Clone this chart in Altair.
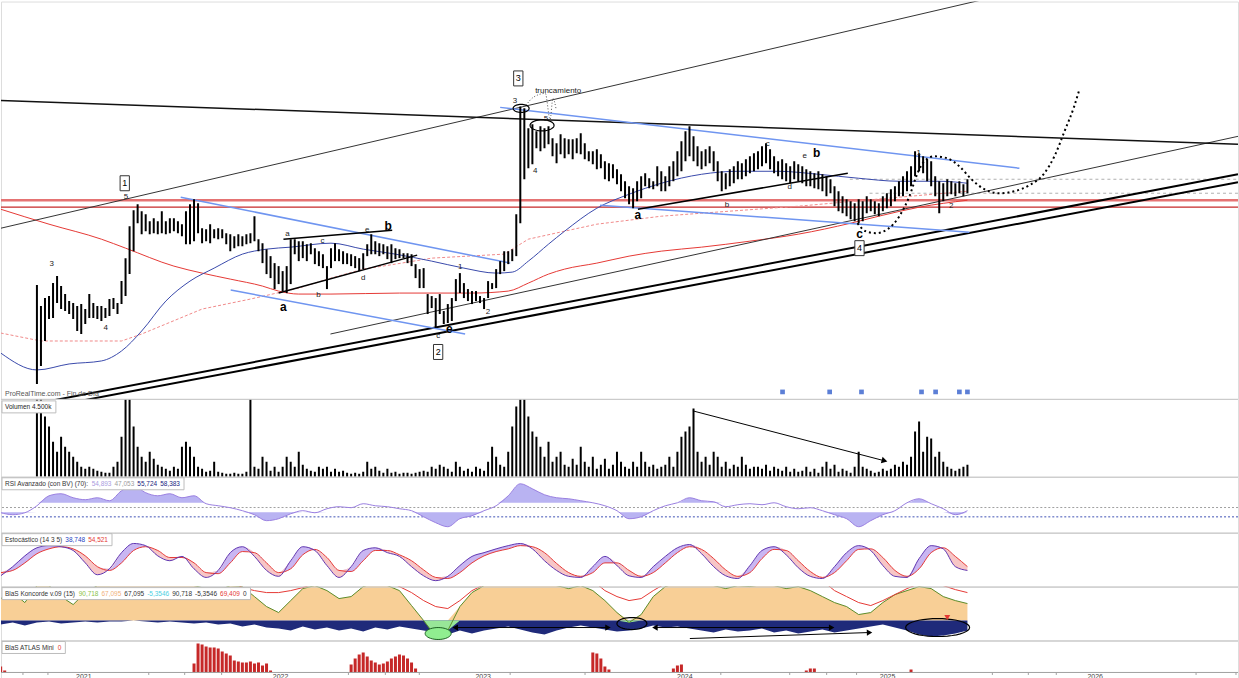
import altair as alt
import numpy as np
import pandas as pd

W = 1239
FONT = "Liberation Sans"

# ---------------- weekly price bars (high / low) ----------------
high = [10.8, 9.75, 10.15, 10.25, 10.9, 11.25, 10.75, 10.35, 10.0, 9.9,
        9.75, 9.85, 9.6, 10.35, 9.9, 9.75, 9.75, 9.65, 10.1, 10.15,
        9.9, 11.0, 12.15, 13.75, 14.55, 14.85, 14.5, 14.35, 14.0, 14.15,
        14.0, 14.5, 14.0, 14.15, 14.15, 14.0, 13.85, 14.5, 14.85, 15.1,
        14.9, 13.65, 13.6, 13.85, 13.6, 13.65, 13.6, 13.4, 13.35, 13.25,
        13.35, 13.25, 13.35, 13.4, 14.25, 13.1, 12.9, 12.6, 12.25, 11.9,
        11.75, 11.5, 11.75, 13.1, 13.1, 13.0, 13.0, 12.85, 12.9, 12.65,
        12.5, 12.35, 11.75, 12.65, 12.9,
        12.6, 12.5, 12.4, 12.35, 12.25, 12.15, 12.4, 12.85, 13.35, 13.0,
        12.9, 12.85, 12.75, 12.85, 12.65, 12.6, 12.4, 12.4, 12.35, 11.85,
        11.6, 11.65, 10.35, 10.25, 10.15, 10.35, 9.5, 9.85, 10.15, 11.1,
        11.4, 10.9, 10.6, 10.5, 10.5, 10.25, 10.15, 11.0, 10.9, 11.6,
        12.0, 12.5, 12.5, 12.6, 14.35, 19.75, 19.65, 18.65, 18.85, 18.5,
        18.75, 18.65, 18.75, 18.15, 17.9, 18.35, 18.15, 18.1, 18.1, 18.15,
        18.4, 17.9, 17.5, 17.5, 17.6, 17.35, 17.0, 16.9, 16.85, 16.6,
        16.35, 16.0, 15.75, 15.65, 16.0, 16.25, 16.4, 16.15, 16.0,
        16.75, 16.5, 16.25, 16.75, 17.0, 17.5, 18.0, 18.5, 18.75, 18.25,
        17.75, 17.5, 17.6, 17.75, 17.5, 17.0, 16.5, 16.4, 16.6, 16.75,
        17.0, 16.9, 17.1, 17.25, 17.4, 17.5, 17.75, 17.9, 17.6, 17.25,
        17.0, 17.1, 16.9, 16.75, 17.0, 16.85, 16.75, 16.6, 16.5, 16.4,
        16.5, 16.35, 16.25, 16.1, 15.75, 15.5, 15.25, 15.1, 15.0, 14.9,
        15.1, 15.0, 15.25, 15.1, 15.0, 14.9, 15.25, 15.4, 15.6, 15.75,
        16.0, 16.25, 16.5, 16.75, 17.5, 17.4, 17.25, 17.1, 17.0, 16.25,
        16.0, 15.9, 16.1, 16.0, 15.9, 16.0, 15.85, 16.1]
low = [5.85, 6.75, 8.0, 9.1, 9.15, 9.9, 9.6, 9.5, 9.35, 9.1,
       8.5, 8.35, 8.85, 9.15, 9.15, 9.1, 9.0, 9.15, 9.25, 9.6,
       9.35, 9.85, 10.25, 11.35, 12.5, 13.9, 13.35, 13.5, 13.35, 13.4,
       13.35, 13.4, 13.35, 13.4, 13.5, 13.4, 13.25, 12.85, 12.85, 13.0,
       13.4, 12.9, 13.0, 12.9, 13.15, 13.1, 13.15, 12.85, 12.5, 12.65,
       12.75, 12.75, 12.85, 12.9, 13.0, 12.5, 11.9, 11.35, 11.15, 10.6,
       10.85, 10.5, 10.4, 10.85, 12.35, 12.0, 12.15, 12.0, 12.35, 11.85,
       11.75, 11.65, 10.6, 11.65, 12.0,
       12.0, 11.85, 11.85, 11.75, 11.65, 11.5, 11.6, 12.25, 12.35, 12.35,
       12.25, 12.35, 12.1, 11.9, 12.1, 12.15, 12.15, 11.9, 11.75, 11.15,
       10.65, 10.65, 9.35, 9.65, 8.65, 9.35, 8.85, 8.9, 9.0, 10.0,
       10.4, 10.15, 10.0, 9.85, 10.0, 9.9, 9.6, 10.15, 10.6, 10.65,
       11.35, 11.5, 11.85, 12.0, 12.25, 13.9, 16.1, 16.65, 16.85, 17.65,
       17.5, 17.65, 17.85, 17.25, 16.9, 17.35, 17.15, 17.35, 17.1, 17.4,
       17.35, 17.1, 17.0, 16.85, 16.6, 16.65, 16.1, 16.0, 16.15, 15.85,
       15.5, 15.15, 14.85, 14.65, 15.0, 15.15, 15.75, 15.65, 15.6,
       15.75, 15.5, 15.5, 15.75, 16.0, 16.25, 16.5, 17.0, 17.25, 17.0,
       16.75, 16.6, 16.75, 16.9, 16.5, 16.0, 15.5, 15.6, 15.75, 15.9,
       16.1, 16.1, 16.25, 16.4, 16.5, 16.6, 16.75, 16.9, 16.6, 16.4,
       16.25, 16.1, 16.0, 15.9, 16.1, 16.0, 15.9, 15.75, 15.75, 15.65,
       15.6, 15.5, 15.25, 15.4, 14.75, 14.5, 14.4, 14.25, 14.1, 14.0,
       13.9, 14.0, 14.4, 14.5, 14.35, 14.25, 14.5, 14.65, 14.75, 15.0,
       15.25, 15.25, 15.5, 15.75, 16.25, 16.5, 16.4, 16.0, 15.75, 15.25,
       14.4, 15.0, 15.25, 15.35, 15.25, 15.4, 15.25, 15.4]

# weekly volume (thousands)
volume = [6800, 5900, 3480, 2900, 2030, 1450, 2320, 1740, 1450, 1160,
          870, 580, 465, 580, 465, 350, 290, 230, 230, 580,
          870, 2320, 6100, 5400, 2900, 1740, 1160, 870, 1450, 1045,
          700, 580, 465, 350, 580, 465, 1740, 2030, 1740, 1160,
          580, 465, 290, 350, 870, 290, 230, 175, 175, 230,
          175, 175, 290, 7200, 580, 465, 1160, 870, 350, 580,
          290, 580, 1160, 870, 580, 1450, 700, 465, 350, 290,
          580, 465, 580, 290, 465, 290, 350, 230, 175, 230,
          175, 290, 870, 465, 580, 350, 230, 465, 230,
          290, 175, 230, 230, 175, 230, 290, 350, 290, 580,
          465, 700, 580, 465, 290, 870, 580, 350, 465, 290,
          580, 465, 350, 870, 1740, 1160, 700, 580, 1450, 2900,
          4060, 6500, 5800, 3480, 2610, 2320, 1740, 1160, 2030, 870,
          1160, 1450, 700, 580, 1045, 700, 1740, 870, 580, 1160,
          465, 700, 1045, 465, 700, 1450, 870, 580, 465, 870,
          580, 1450, 870, 580, 700, 465, 580, 700, 1160, 580,
          1450, 2320, 2610, 2900, 3945, 1450, 870, 1160, 700, 1450,
          1160, 580, 870, 465, 700, 580, 1160, 700, 465, 580,
          580, 465, 700, 350, 580, 465, 350, 580, 290,
          465, 290, 350, 580, 290, 465, 230, 580, 870, 465,
          700, 290, 465, 350, 230, 580, 1450, 580, 465, 350,
          230, 290, 465, 350, 465, 700, 580, 870, 700, 1160,
          2610, 3190, 1450, 2320, 2205, 1160, 1450, 870, 580, 465,
          350, 465, 580, 700]

# ---------------- moving averages (bar index, price) ----------------
ma_blue_idx = [-9, 0, 8, 16, 21, 26, 32, 38, 44, 51, 57, 63, 73, 81, 89, 98, 106,
               114, 118, 122, 127, 131, 139, 147, 155, 165, 174, 184, 194, 204, 214, 224, 231]
ma_blue = [7.4, 6.55, 6.85, 7.0, 7.5, 8.5, 10.0, 11.0, 11.65, 12.35, 12.6, 12.7, 12.9,
           12.6, 12.35, 12.0, 11.65, 11.4, 11.45, 12.0, 12.85, 13.5, 14.65, 15.35, 15.9,
           16.35, 16.5, 16.5, 16.35, 16.15, 16.0, 16.0, 15.9]
ma_red_idx = [-9, 3, 16, 22, 34, 41, 48, 56, 60, 65, 73, 90, 108, 117, 122, 127, 131,
              139, 147, 155, 165, 177, 189, 202, 209, 219, 231]
ma_red = [14.6, 13.85, 13.1, 12.65, 11.75, 11.4, 11.1, 10.75, 10.5, 10.35, 10.35, 10.4,
          10.4, 10.5, 10.9, 11.35, 11.6, 11.9, 12.25, 12.5, 12.7, 13.0, 13.35, 13.9,
          14.25, 14.7, 15.05]
ma_pink_idx = [-9, 1, 21, 26, 41, 53, 65, 73, 81, 89, 98, 107, 116, 122, 131, 139, 155,
               165, 189, 214, 231]
ma_pink = [8.4, 8.0, 8.0, 8.35, 9.6, 10.1, 10.65, 11.15, 11.6, 11.85, 12.15, 12.25,
           12.35, 13.1, 13.5, 13.85, 14.25, 14.4, 14.75, 15.2, 15.5]

# ---------------- drawn lines (start idx, start price, end idx, end price) ----------------
thin_lines = {"i1": [-8.92, 72.87], "p1": [13.65, 8.35], "i2": [298.17, 298.17], "p2": [28.07, 18.25]}
thick_lines = {"i1": [0.99, 8.43], "p1": [4.91, 4.91], "i2": [298.17, 298.17], "p2": [16.35, 15.95]}
resist_line = {"i1": [-8.92], "p1": [20.05], "i2": [298.17], "p2": [17.85]}
triangle_lines = {"i1": [61.2, 60.0, 149.2], "p1": [13.1, 10.4, 14.6],
                  "i2": [88.2, 94.4, 201.3], "p2": [13.55, 12.3, 16.4]}
blue_lines = {"i1": [35.7, 48.1, 115.0, 139.8], "p1": [15.2, 10.55, 19.7, 14.8],
              "i2": [117.5, 106.3, 243.9, 231.5], "p2": [11.9, 8.35, 16.65, 13.45]}
support_levels = [15.05, 14.7]
dashed_levels = {"i1": [201.8, 206.7], "p": [16.1, 15.4], "i2": [298.17, 298.17]}

forecast_idx = [203.7, 205.7, 208.2, 211.2, 214.1, 216.6, 218.6, 220.3, 222.8, 226.0, 229.0,
                232.0, 235.2, 238.9, 242.6, 246.4, 250.1, 252.6, 255.1, 257.5, 258.8]
forecast_p = [13.9, 13.5, 13.4, 13.6, 14.25, 15.25, 16.4, 17.0, 17.25, 17.15, 16.75,
              16.1, 15.6, 15.4, 15.5, 15.8, 16.4, 17.25, 18.5, 19.75, 20.6]
trunc_idx = [121.4, 123.2, 126.2, 128.1, 128.9, 127.4]
trunc_p = [19.8, 20.2, 20.4, 20.15, 19.6, 19.1]

# ---------------- annotations ----------------
small_txt = ["5", "3", "4", "a", "b", "c", "d", "e", "c", "1", "2", "3", "truncamiento",
             "5", "4", "b", "c", "e", "d", "1", "2"]
small_i = [22.1, 3.7, 17.1, 62.2, 69.9, 70.9, 81.0, 82.0, 99.6, 105.1, 112.0, 118.7, 129.4,
           126.4, 123.7, 171.3, 181.4, 190.6, 186.9, 218.9, 227.0]
small_p = [15.2, 11.85, 8.65, 13.35, 10.3, 13.0, 11.15, 13.55, 8.25, 11.7, 9.45, 20.0, 20.5,
           19.1, 16.5, 14.8, 17.85, 17.25, 15.7, 17.4, 14.75]
bold_txt = ["a", "b", "e", "a", "b", "c"]
bold_i = [61.2, 87.2, 102.4, 149.2, 193.6, 204.2]
bold_p = [9.7, 13.75, 8.6, 14.3, 17.4, 13.35]
box_txt = ["1", "2", "3", "4"]
box_i = [21.8, 99.6, 119.5, 204.2]
box_p = [15.9, 7.45, 21.15, 12.65]
event_i = [185.1, 196.8, 204.7, 219.6, 223.1, 229.0, 231.0]

# ---------------- indicators (every 3 bars from index -9) ----------------
ind_idx = list(range(-9, 232, 3))
rsi = [41.4, 39.3, 41.4, 48.9, 59.6, 61.8, 57.5, 55.4, 57.5, 54.3,
       65.0, 70.4, 62.9, 59.6, 61.8, 57.5, 59.6, 51.1, 48.9, 46.8,
       43.6, 39.3, 32.9, 35.0, 40.3, 43.6, 41.4, 45.7, 47.9, 46.8,
       51.1, 48.9, 47.9, 45.7, 43.6, 37.1, 30.7, 26.4, 35.0, 38.2,
       43.6, 48.9, 59.6, 72.5, 67.1, 60.7, 57.5, 56.4, 54.3, 52.1,
       48.9, 43.6, 35.0, 37.1, 43.6, 48.9, 52.1, 57.5, 54.3, 53.2,
       47.9, 50.0, 51.1, 50.0, 52.1, 47.9, 45.7, 46.8, 43.6, 39.3,
       35.0, 26.4, 32.9, 39.3, 43.6, 52.1, 56.4, 51.1, 45.7, 39.3, 43.6]
stoch_k = [20, 37, 57, 72, 76, 74, 67, 44, 22, 33,
           63, 80, 76, 57, 48, 56, 33, 17, 30, 63,
           74, 56, 30, 19, 48, 74, 67, 39, 17, 37,
           67, 72, 63, 56, 37, 20, 11, 19, 39, 56,
           63, 70, 76, 80, 70, 48, 30, 19, 17, 37,
           56, 39, 20, 17, 37, 56, 72, 78, 61, 37,
           20, 15, 39, 67, 74, 59, 35, 19, 15, 37,
           63, 76, 67, 39, 19, 17, 52, 76, 70, 37, 30]
stoch_d = [26, 30, 44, 61, 70, 74, 70, 57, 37, 30,
           44, 67, 74, 67, 54, 54, 44, 26, 24, 44,
           65, 63, 44, 26, 33, 59, 69, 54, 30, 28,
           48, 67, 67, 59, 48, 31, 17, 15, 26, 44,
           57, 65, 70, 76, 74, 63, 43, 26, 19, 26,
           44, 44, 30, 19, 26, 44, 63, 74, 69, 52,
           31, 19, 26, 52, 69, 67, 48, 28, 17, 26,
           48, 69, 70, 54, 30, 19, 33, 63, 72, 56, 37]
kon_verde = [44, 56, 36, 70, 70, 48, 32, 56, 70, 70,
             80, 80, 80, 80, 76, 80, 70, 64, 60, 70,
             68, 48, 28, 16, 40, 64, 70, 60, 44, 48,
             68, 76, 70, 60, 30, 0, -32, -20, 28, 56,
             70, 76, 80, 80, 80, 76, 70, 64, 70, 60,
             40, 16, -4, 12, 48, 68, 76, 80, 76, 70,
             64, 70, 68, 72, 70, 64, 68, 60, 48, 36,
             28, 12, 16, 36, 52, 60, 68, 64, 48, 40, 34]
kon_azul = [-8, -4, -10, -4, -2, -6, -4, -2, -4, -2,
            -2, 0, -2, -4, -2, -4, -6, -4, -8, -6,
            -12, -8, -14, -16, -20, -12, -18, -14, -20, -16,
            -22, -14, -18, -12, -16, -20, -24, -28, -20, -26,
            -20, -16, -12, -18, -24, -28, -20, -14, -10, -14,
            -18, -22, -20, -16, -10, -14, -12, -16, -20, -24,
            -18, -22, -20, -16, -24, -20, -26, -22, -18, -24,
            -20, -16, -12, -8, -14, -20, -28, -32, -30, -26, -20]
kon_media = [80] * 20 + [66, 60, 56, 56, 60, 66, 74] + [80] * 6 + \
            [68, 56, 40, 28, 24, 40, 60, 72] + [80] * 9 + [60, 48, 40, 44, 60, 74] + \
            [80] * 13 + [60, 48, 36, 30, 40, 52, 64, 74] + [80, 70, 62, 56]

atlas_idx = [-9, -8, 39, 40, 41, 42, 43, 44, 45, 46, 47, 48, 49, 50, 51, 52, 53, 54, 55, 56,
             57, 58, 78, 79, 80, 81, 82, 83, 84, 85, 86, 87, 88, 89, 90, 91, 92, 93, 94,
             138, 139, 140, 141, 142, 158, 159, 160, 191, 192, 193, 217]
atlas_val = [6, 2, 9, 29, 28, 26, 25, 25, 24, 21, 19, 17, 12, 11, 10, 10, 11, 9, 10, 7,
             9, 2, 8, 14, 18, 20, 16, 12, 10, 8, 9, 11, 14, 16, 18, 17, 14, 10, 4,
             20, 19, 14, 6, 3, 4, 7, 8, 2, 4, 4, 3]

years = ["2021", "2022", "2023", "2024", "2025", "2026"]
year_pos = [11.65, 60.48, 110.79, 160.85, 211.17, 262.72]
tick_pos = [-3.47, 2.73, 27.76, 36.68, 45.85, 77.33, 86.5, 94.93, 117.48, 136.07, 169.78,
            186.88, 196.05, 203.48, 237.19, 246.12, 253.06, 287.76, 297.67]

# panel header texts (text, colour)
vol_header = [("Volumen 4.500k", "#222222")]
rsi_header = [("RSI Avanzado (con BV) (70):", "#333333"), ("54,893", "#a99be0"),
              ("47,053", "#9e9e9e"), ("55,724", "#1a237e"), ("58,383", "#1a237e")]
sto_header = [("Estocástico (14 3 5)", "#333333"), ("38,748", "#1f3fbf"), ("54,521", "#e53935")]
kon_header = [("BlaS Koncorde v.09 (15)", "#333333"), ("90,718", "#8bc34a"), ("67,095", "#f0b27a"),
              ("67,095", "#333333"), ("-5,3546", "#4dd0e1"), ("90,718", "#333333"),
              ("-5,3546", "#333333"), ("69,409", "#e53935"), ("0", "#333333")]
atl_header = [("BlaS ATLAS Mini", "#333333"), ("0", "#e53935")]

# ---------------- helpers ----------------
xs = alt.Scale(domain=[-8.92, 298.17], nice=False, zero=False)
ONE = pd.DataFrame({"k": [0]})
HSIZE = 6.5

_W = {",": .278, ".": .278, " ": .278, "-": .333, "(": .333, ")": .333, ":": .278,
      "I": .278, "M": .833, "L": .556, "T": .611, "R": .722, "N": .722, "O": .778, "C": .722,
      "D": .722, "i": .222, "l": .222, "j": .222, "t": .278, "f": .278, "r": .333, "c": .5,
      "s": .5, "v": .5, "z": .5, "k": .5, "x": .5, "y": .5, "m": .833, "w": .722}


def text_w(s, size):
    tot = 0.0
    for ch in s:
        if ch in _W:
            tot += _W[ch]
        elif ch.isdigit():
            tot += .556
        elif ch.isupper():
            tot += .667
        else:
            tot += .556
    return tot * size


def X(f):
    return alt.X(f, type="quantitative", scale=xs, axis=None)


def ellipse_path(ratio, n=40):
    t = np.linspace(0, 2 * np.pi, n, endpoint=False)
    pts = [f"{np.cos(a):.3f},{ratio * np.sin(a):.3f}" for a in t]
    return "M" + " L".join(pts) + " Z"


BOX = "M-0.62,-1 L0.62,-1 L0.62,1 L-0.62,1 Z"


def ctext(txt, px, py, size=HSIZE, color="#333", weight="normal"):
    return alt.Chart(ONE).mark_text(text=txt, fontSize=size, color=color, font=FONT,
                                    fontWeight=weight, align="left", baseline="middle").encode(
        x=alt.value(px), y=alt.value(py))


def header(segments, py, boxed=True):
    layers = []
    pos = []
    x = 4.0
    for txt, col in segments:
        pos.append((x, txt, col))
        x += text_w(txt, HSIZE) + 3
    if boxed:
        layers.append(alt.Chart(ONE).mark_rect(fill="white", stroke="#bdbdbd", strokeWidth=1).encode(
            x=alt.value(1), x2=alt.value(x + 1), y=alt.value(py - 6), y2=alt.value(py + 6)))
    for px, txt, col in pos:
        layers.append(ctext(txt, px, py, color=col))
    return layers


def separator():
    return alt.Chart(ONE).mark_rule(color="#c8c8c8", strokeWidth=1).encode(
        x=alt.value(0), x2=alt.value(W), y=alt.value(0.5))


# ---------------- main price panel ----------------
ysm = alt.Scale(domain=[5.1, 25], nice=False, zero=False)


def YM(f):
    return alt.Y(f, type="quantitative", scale=ysm, axis=None)


def seg_layer(d, color, width, dash=None):
    kw = dict(color=color, strokeWidth=width, clip=True)
    if dash:
        kw["strokeDash"] = dash
    return alt.Chart(pd.DataFrame(d)).mark_rule(**kw).encode(
        x=X("i1"), y=YM("p1"), x2="i2:Q", y2="p2:Q")


bars_df = pd.DataFrame({"i": list(range(len(high))), "hi": high, "lo": low})

main_layers = [
    alt.Chart(pd.DataFrame({"p": [support_levels[0]]})).mark_rule(color="#e57373", strokeWidth=2.5, clip=True).encode(y=YM("p")),
    alt.Chart(pd.DataFrame({"p": [support_levels[1]]})).mark_rule(color="#c62828", strokeWidth=1.3, clip=True).encode(y=YM("p")),
    alt.Chart(pd.DataFrame(dashed_levels)).mark_rule(color="#b0b0b0", strokeWidth=1, strokeDash=[3, 3], clip=True).encode(
        x=X("i1"), x2="i2:Q", y=YM("p")),
    alt.Chart(pd.DataFrame({"i": ma_pink_idx, "p": ma_pink})).mark_line(color="#f08a8a", strokeWidth=1, strokeDash=[3, 2], clip=True).encode(x=X("i"), y=YM("p")),
    alt.Chart(pd.DataFrame({"i": ma_red_idx, "p": ma_red})).mark_line(color="#e53935", strokeWidth=1, interpolate="monotone", clip=True).encode(x=X("i"), y=YM("p")),
    alt.Chart(pd.DataFrame({"i": ma_blue_idx, "p": ma_blue})).mark_line(color="#3949ab", strokeWidth=1, interpolate="monotone", clip=True).encode(x=X("i"), y=YM("p")),
    seg_layer(thin_lines, "#333333", 1),
    seg_layer(resist_line, "#111111", 1.5),
    seg_layer(thick_lines, "#000000", 2),
    seg_layer(blue_lines, "#6f95f0", 1.5),
    seg_layer(triangle_lines, "#000000", 1.5),
    alt.Chart(bars_df).mark_rule(color="black", strokeWidth=2, clip=True).encode(x=X("i"), y=YM("lo"), y2="hi:Q"),
    alt.Chart(pd.DataFrame({"i": forecast_idx, "p": forecast_p})).mark_line(color="black", strokeWidth=2, strokeDash=[2, 3], interpolate="monotone", clip=True).encode(x=X("i"), y=YM("p")),
    alt.Chart(pd.DataFrame({"i": trunc_idx, "p": trunc_p})).mark_line(color="#555555", strokeWidth=1, strokeDash=[1, 2], interpolate="monotone", clip=True).encode(x=X("i"), y=YM("p")),
    alt.Chart(pd.DataFrame({"i": [120.2], "p": [19.65]})).mark_point(shape=ellipse_path(0.5), size=16 * 16, filled=False, color="black", strokeWidth=1.2, opacity=1, clip=True).encode(x=X("i"), y=YM("p")),
    alt.Chart(pd.DataFrame({"i": [125.4], "p": [18.8]})).mark_point(shape=ellipse_path(0.46), size=24 * 24, filled=False, color="black", strokeWidth=1.2, opacity=1, clip=True).encode(x=X("i"), y=YM("p")),
    alt.Chart(pd.DataFrame({"i": box_i, "p": box_p})).mark_point(shape=BOX, size=15 * 15, filled=True, fill="white", stroke="#333333", strokeWidth=1, opacity=1, clip=True).encode(x=X("i"), y=YM("p")),
    alt.Chart(pd.DataFrame({"i": box_i, "p": box_p, "t": box_txt})).mark_text(fontSize=9, font=FONT, color="black", clip=True).encode(x=X("i"), y=YM("p"), text="t:N"),
    alt.Chart(pd.DataFrame({"i": small_i, "p": small_p, "t": small_txt})).mark_text(fontSize=8, font=FONT, color="#222222", clip=True).encode(x=X("i"), y=YM("p"), text="t:N"),
    alt.Chart(pd.DataFrame({"i": bold_i, "p": bold_p, "t": bold_txt})).mark_text(fontSize=12, font=FONT, fontWeight="bold", color="black", clip=True).encode(x=X("i"), y=YM("p"), text="t:N"),
    alt.Chart(pd.DataFrame({"i": event_i, "p": [5.45] * len(event_i)})).mark_point(shape="square", size=22, filled=True, color="#5c7fd6", opacity=1, clip=True).encode(x=X("i"), y=YM("p")),
    ctext("ProRealTime.com - Fin de Día", 4, 393, size=7, color="#555555"),
]
main = alt.layer(*main_layers).properties(width=W, height=398)

# ---------------- volume panel ----------------
ysv = alt.Scale(domain=[0, 4500], nice=False, zero=False)
vol_df = pd.DataFrame({"i": list(range(len(volume))), "v": volume, "z": 0})
vol_layers = [
    alt.Chart(vol_df).mark_rule(color="black", strokeWidth=2, clip=True).encode(
        x=X("i"), y=alt.Y("v:Q", scale=ysv, axis=None), y2="z:Q"),
    alt.Chart(pd.DataFrame({"i1": [162.84], "v1": [3808], "i2": [210.42], "v2": [923]})).mark_rule(color="black", strokeWidth=1, clip=True).encode(
        x=X("i1"), y=alt.Y("v1:Q", scale=ysv, axis=None), x2="i2:Q", y2="v2:Q"),
    alt.Chart(pd.DataFrame({"i": [210.42], "v": [923]})).mark_point(shape="triangle-right", size=45, angle=14.6, filled=True, color="black", opacity=1).encode(
        x=X("i"), y=alt.Y("v:Q", scale=ysv, axis=None)),
    separator(),
] + header(vol_header, 8)
vol = alt.layer(*vol_layers).properties(width=W, height=78)

# ---------------- RSI panel ----------------
ysr = alt.Scale(domain=[20, 80], nice=False, zero=False)
rsi_df = pd.DataFrame({"i": ind_idx, "r": rsi})
rsi_df["up"] = np.maximum(rsi_df["r"], 52)
rsi_df["dn"] = np.minimum(rsi_df["r"], 42)
rsi_df["b_up"] = 52
rsi_df["b_dn"] = 42
rsi_layers = [
    alt.Chart(pd.DataFrame({"r": [47]})).mark_rule(color="#a0a0a0", strokeDash=[2, 2], strokeWidth=1).encode(y=alt.Y("r:Q", scale=ysr, axis=None)),
    alt.Chart(pd.DataFrame({"r": [37]})).mark_rule(color="#3f51b5", strokeDash=[2, 2], strokeWidth=1).encode(y=alt.Y("r:Q", scale=ysr, axis=None)),
    alt.Chart(rsi_df).mark_area(color="#b9b3f2", opacity=1, interpolate="monotone", clip=True).encode(
        x=X("i"), y=alt.Y("up:Q", scale=ysr, axis=None), y2="b_up:Q"),
    alt.Chart(rsi_df).mark_area(color="#b9b3f2", opacity=1, interpolate="monotone", clip=True).encode(
        x=X("i"), y=alt.Y("dn:Q", scale=ysr, axis=None), y2="b_dn:Q"),
    alt.Chart(rsi_df).mark_line(color="#9a7fe0", strokeWidth=1, interpolate="monotone", clip=True).encode(
        x=X("i"), y=alt.Y("r:Q", scale=ysr, axis=None)),
    separator(),
] + header(rsi_header, 7)
rsi_panel = alt.layer(*rsi_layers).properties(width=W, height=56)

# ---------------- stochastic panel ----------------
yss = alt.Scale(domain=[0, 100], nice=False, zero=False)
sto_df = pd.DataFrame({"i": ind_idx, "k": stoch_k, "d": stoch_d})
sto_df["hi"] = np.maximum(sto_df["k"], sto_df["d"])
sto_layers = [
    alt.Chart(sto_df).mark_area(color="#c9b6f2", opacity=1, interpolate="monotone", clip=True).encode(
        x=X("i"), y=alt.Y("hi:Q", scale=yss, axis=None), y2="d:Q"),
    alt.Chart(sto_df).mark_area(color="#f7c6c6", opacity=1, interpolate="monotone", clip=True).encode(
        x=X("i"), y=alt.Y("k:Q", scale=yss, axis=None), y2="hi:Q"),
    alt.Chart(sto_df).mark_line(color="#e53935", strokeWidth=1, interpolate="monotone", clip=True).encode(
        x=X("i"), y=alt.Y("d:Q", scale=yss, axis=None)),
    alt.Chart(sto_df).mark_line(color="#5e35b1", strokeWidth=1, interpolate="monotone", clip=True).encode(
        x=X("i"), y=alt.Y("k:Q", scale=yss, axis=None)),
    separator(),
] + header(sto_header, 7)
sto_panel = alt.layer(*sto_layers).properties(width=W, height=54)

# ---------------- Koncorde panel ----------------
ysk = alt.Scale(domain=[-40, 68], nice=False, zero=False)
kon_df = pd.DataFrame({"i": ind_idx, "verde": kon_verde, "azul": kon_azul, "media": kon_media})
kon_df["top"] = np.maximum(kon_df["verde"], 0)
kon_df["neg"] = np.minimum(kon_df["verde"], 0)
kon_df["z"] = 0


def YK(f):
    return alt.Y(f, type="quantitative", scale=ysk, axis=None)


kon_layers = [
    alt.Chart(kon_df).mark_area(color="#f8cf96", opacity=1, clip=True).encode(x=X("i"), y=YK("top"), y2="z:Q"),
    alt.Chart(kon_df).mark_area(color="#1f2a7a", opacity=1, clip=True).encode(x=X("i"), y=YK("azul"), y2="z:Q"),
    alt.Chart(kon_df).mark_area(color="#98e698", opacity=1, clip=True).encode(x=X("i"), y=YK("neg"), y2="z:Q"),
    alt.Chart(kon_df).mark_line(color="#5b8c2a", strokeWidth=1, clip=True).encode(x=X("i"), y=YK("verde")),
    alt.Chart(kon_df).mark_line(color="#e53935", strokeWidth=1, clip=True).encode(x=X("i"), y=YK("media")),
    alt.Chart(pd.DataFrame({"i1": [103.85, 153.42, 162.09], "v1": [-14, -14, -36],
                            "i2": [141.77, 197.29, 206.70], "v2": [-14, -14, -24]})).mark_rule(color="black", strokeWidth=1, clip=True).encode(
        x=X("i1"), y=YK("v1"), x2="i2:Q", y2="v2:Q"),
    alt.Chart(pd.DataFrame({"i": [141.77, 197.29], "v": [-14, -14]})).mark_point(shape="triangle-right", size=40, filled=True, color="black", opacity=1).encode(x=X("i"), y=YK("v")),
    alt.Chart(pd.DataFrame({"i": [103.85, 153.42], "v": [-14, -14]})).mark_point(shape="triangle-left", size=40, filled=True, color="black", opacity=1).encode(x=X("i"), y=YK("v")),
    alt.Chart(pd.DataFrame({"i": [206.70], "v": [-24]})).mark_point(shape="triangle-right", size=40, angle=358, filled=True, color="black", opacity=1).encode(x=X("i"), y=YK("v")),
    alt.Chart(pd.DataFrame({"i": [99.6], "v": [-26]})).mark_point(shape=ellipse_path(0.46), size=26 * 26, filled=True, fill="#90ee90", stroke="#1b5e20", strokeWidth=1, opacity=1).encode(x=X("i"), y=YK("v")),
    alt.Chart(pd.DataFrame({"i": [147.7], "v": [-6]})).mark_point(shape=ellipse_path(0.4), size=30 * 30, filled=False, color="black", strokeWidth=1.2, opacity=1).encode(x=X("i"), y=YK("v")),
    alt.Chart(pd.DataFrame({"i": [223.6], "v": [-14]})).mark_point(shape=ellipse_path(0.28), size=64 * 64, filled=False, color="black", strokeWidth=1.2, opacity=1).encode(x=X("i"), y=YK("v")),
    alt.Chart(pd.DataFrame({"i": [226.0], "v": [6]})).mark_point(shape="triangle-down", size=35, filled=True, color="#e53935", opacity=1).encode(x=X("i"), y=YK("v")),
    separator(),
] + header(kon_header, 7)
kon_panel = alt.layer(*kon_layers).properties(width=W, height=54)

# ---------------- ATLAS panel + time axis ----------------
ysa = alt.Scale(domain=[-6, 32], nice=False, zero=False)
atl_df = pd.DataFrame({"i": atlas_idx, "v": atlas_val, "z": 0})
atl_layers = [
    alt.Chart(atl_df).mark_rule(color="#c62828", strokeWidth=3, clip=True).encode(
        x=X("i"), y=alt.Y("v:Q", scale=ysa, axis=None), y2="z:Q"),
    alt.Chart(pd.DataFrame({"v": [0]})).mark_rule(color="#a0a0a0", strokeWidth=1).encode(y=alt.Y("v:Q", scale=ysa, axis=None)),
    alt.Chart(pd.DataFrame({"i": tick_pos, "a": 0, "b": -2.5})).mark_rule(color="#a0a0a0", strokeWidth=1, clip=True).encode(
        x=X("i"), y=alt.Y("a:Q", scale=ysa, axis=None), y2="b:Q"),
    alt.Chart(pd.DataFrame({"i": year_pos, "y": -0.6, "t": years})).mark_text(fontSize=7, font=FONT, color="#444444", baseline="top", clip=True).encode(
        x=X("i"), y=alt.Y("y:Q", scale=ysa, axis=None), text="t:N"),
    separator(),
] + header(atl_header, 7)
atl_panel = alt.layer(*atl_layers).properties(width=W, height=38)

chart = alt.vconcat(main, vol, rsi_panel, sto_panel, kon_panel, atl_panel, spacing=0, padding=0, bounds="flush").resolve_scale(
    y="independent").configure_view(stroke=None).configure(font=FONT, background="white")

chart.save("out.html", embed_options={"renderer": "svg", "actions": False})
